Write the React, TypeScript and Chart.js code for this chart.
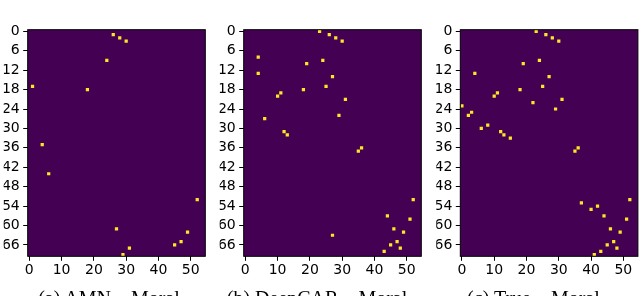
import React, { useEffect, useRef } from 'react';
import { Chart, registerables } from 'chart.js';

Chart.register(...registerables);

// ---- data ----
const NUM_COLS = 55;
const NUM_ROWS = 70;
const xTickValues = [0, 10, 20, 30, 40, 50];
const yTickValues = [0, 6, 12, 18, 24, 30, 36, 42, 48, 54, 60, 66];

const captions = ['(a) AMN – Moral', '(b) DeepCAR – Moral', '(c) True – Moral'];

// (a) AMN – cells with value 1 (column, row)
const amnCols = [26, 28, 30, 24, 1, 18, 4, 6, 52, 27, 49, 47, 45, 31, 29];
const amnRows = [1, 2, 3, 9, 17, 18, 35, 44, 52, 61, 62, 65, 66, 67, 69];

// (b) DeepCAR
const deepcarCols = [23, 26, 28, 30, 4, 24, 19, 4, 27, 25, 18, 11, 10, 31, 29, 6, 12, 13, 36, 35, 52, 44, 51, 46, 49, 27, 47, 45, 48, 43];
const deepcarRows = [0, 1, 2, 3, 8, 9, 10, 13, 14, 17, 18, 19, 20, 21, 26, 27, 31, 32, 36, 37, 52, 57, 58, 61, 62, 63, 65, 66, 67, 68];

// (c) True
const trueCols = [23, 26, 28, 30, 24, 19, 4, 27, 25, 18, 11, 10, 31, 22, 0, 29, 3, 2, 8, 6, 12, 13, 15, 36, 35, 52, 37, 42, 40, 44, 51, 46, 49, 47, 45, 48, 43, 41];
const trueRows = [0, 1, 2, 3, 9, 10, 13, 14, 17, 18, 19, 20, 21, 22, 23, 24, 25, 26, 29, 30, 31, 32, 33, 36, 37, 52, 53, 54, 55, 57, 58, 61, 62, 65, 66, 67, 68, 69];

// ---- style / layout ----
const BG = '#440154';
const CELL = '#fde725';
const H = 296;
const CANVAS_W = 210;
const PLOT_TOP = 29.7;
const PLOT_BOTTOM = 256.3;
const PLOT_W = 177.6;
const Y_AXIS_W = 24;
const plotLefts = [27.7, 243.7, 460.3];
const canvasLefts = [0, 216, 432];
const captionCenters = [109, 317, 533.5];

const framePlugin = {
  id: 'heatFrame',
  beforeDatasetsDraw(chart: any) {
    const { ctx, chartArea: a } = chart;
    ctx.save();
    ctx.fillStyle = BG;
    ctx.fillRect(a.left, a.top, a.right - a.left, a.bottom - a.top);
    ctx.restore();
  },
  afterDatasetsDraw(chart: any) {
    const { ctx, chartArea: a } = chart;
    ctx.save();
    ctx.strokeStyle = '#000';
    ctx.lineWidth = 1;
    ctx.strokeRect(a.left, a.top, a.right - a.left, a.bottom - a.top);
    ctx.restore();
  },
};

function Panel({ cols, rows, idx }: { cols: number[]; rows: number[]; idx: number }) {
  const ref = useRef<HTMLCanvasElement | null>(null);
  useEffect(() => {
    if (!ref.current) return;
    const plotLeft = plotLefts[idx];
    const cLeft = canvasLefts[idx];
    const padLeft = plotLeft - cLeft - Y_AXIS_W;
    const padRight = CANVAS_W - (plotLeft - cLeft) - PLOT_W;
    const data = cols.map((c, i) => ({ x: c, y: rows[i] }));
    const chart = new Chart(ref.current, {
      type: 'scatter',
      data: {
        datasets: [
          {
            data,
            pointStyle: 'rect',
            backgroundColor: CELL,
            borderWidth: 0,
            pointRadius: (ctx: any) => {
              const sx = ctx.chart.scales.x;
              const w = Math.abs(sx.getPixelForValue(1) - sx.getPixelForValue(0));
              return (w / 2) / Math.SQRT1_2;
            },
            pointHoverRadius: 0,
          } as any,
        ],
      },
      options: {
        animation: false,
        responsive: false,
        events: [],
        layout: { padding: { left: padLeft, right: padRight, top: PLOT_TOP, bottom: 0 } },
        plugins: { legend: { display: false }, tooltip: { enabled: false }, title: { display: false } },
        scales: {
          x: {
            type: 'linear',
            min: -0.5,
            max: NUM_COLS - 0.5,
            afterBuildTicks: (s: any) => {
              s.ticks = xTickValues.map((v) => ({ value: v }));
            },
            afterFit: (s: any) => {
              s.height = H - PLOT_BOTTOM;
            },
            border: { display: false },
            grid: { drawOnChartArea: false, drawTicks: true, tickLength: 4.5, tickColor: '#000', tickWidth: 1 },
            ticks: {
              color: '#000',
              padding: 1.5,
              maxRotation: 0,
              autoSkip: false,
              font: { family: "'DejaVu Sans', sans-serif", size: 14 },
            },
          },
          y: {
            type: 'linear',
            reverse: true,
            min: -0.5,
            max: NUM_ROWS - 0.5,
            afterBuildTicks: (s: any) => {
              s.ticks = yTickValues.map((v) => ({ value: v }));
            },
            afterFit: (s: any) => {
              s.width = Y_AXIS_W;
            },
            border: { display: false },
            grid: { drawOnChartArea: false, drawTicks: true, tickLength: 4.5, tickColor: '#000', tickWidth: 1 },
            ticks: {
              color: '#000',
              padding: 3.5,
              autoSkip: false,
              font: { family: "'DejaVu Sans', sans-serif", size: 14 },
            },
          },
        },
      },
      plugins: [framePlugin],
    } as any);
    return () => chart.destroy();
  }, [cols, rows, idx]);

  return (
    <div style={{ position: 'absolute', left: canvasLefts[idx], top: 0, width: CANVAS_W, height: H }}>
      <canvas ref={ref} width={CANVAS_W} height={H} style={{ display: 'block', width: CANVAS_W, height: H }} />
    </div>
  );
}

export default function App() {
  const panels = [
    { cols: amnCols, rows: amnRows },
    { cols: deepcarCols, rows: deepcarRows },
    { cols: trueCols, rows: trueRows },
  ];
  return (
    <div
      style={{
        position: 'fixed',
        left: 0,
        top: 0,
        width: 640,
        height: H,
        overflow: 'hidden',
        background: '#fff',
      }}
    >
      {panels.map((p, i) => (
        <Panel key={i} cols={p.cols} rows={p.rows} idx={i} />
      ))}
      {captions.map((c, i) => (
        <div
          key={'cap' + i}
          style={{
            position: 'absolute',
            left: captionCenters[i] - 110,
            width: 220,
            top: 287.5,
            textAlign: 'center',
            fontFamily: "'Liberation Serif', 'Times New Roman', serif",
            fontSize: 20,
            lineHeight: '20px',
            whiteSpace: 'nowrap',
            color: '#000',
          }}
        >
          {c}
        </div>
      ))}
    </div>
  );
}
